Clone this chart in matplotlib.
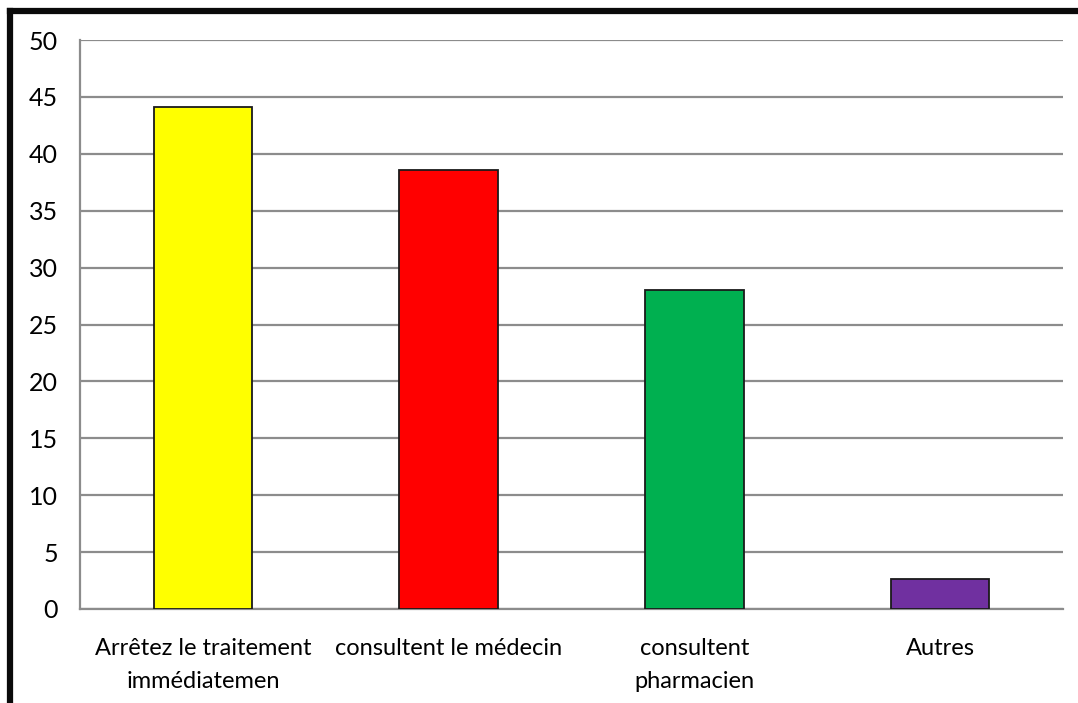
import matplotlib
matplotlib.use("Agg")
import matplotlib.pyplot as plt
from matplotlib.lines import Line2D

categories = ["Arrêtez le traitement\nimmédiatemen", "consultent le médecin",
              "consultent\npharmacien", "Autres"]
values = [44.1, 38.6, 28.0, 2.6]
colors = ["#FFFF00", "#FF0000", "#00B050", "#7030A0"]
yticks = [0, 5, 10, 15, 20, 25, 30, 35, 40, 45, 50]

plt.rcParams['font.family'] = ['Lato', 'DejaVu Sans']

W, H = 1078, 703
fig = plt.figure(figsize=(W / 100, H / 100), dpi=100)
ax = fig.add_axes([80 / W, 1 - 609 / H, (1063 - 80) / W, (609 - 40) / H])

x = list(range(len(categories)))
ax.bar(x, values, width=0.4, color=colors, edgecolor="#1a1a1a", linewidth=1.3, zorder=3)

ax.set_xlim(-0.5, len(categories) - 0.5)
ax.set_ylim(0, 50)
ax.set_yticks(yticks)
ax.set_yticklabels([str(t) for t in yticks], fontsize=18)
ax.set_xticks(x)
ax.set_xticklabels(categories, fontsize=17, linespacing=1.7)
ax.tick_params(axis="y", length=0, pad=16)
ax.tick_params(axis="x", length=0, pad=21)

ax.grid(axis="y", color="#8c8c8c", linewidth=1.6, zorder=0)
for side in ["top", "right"]:
    ax.spines[side].set_visible(False)
ax.spines["left"].set_color("#8c8c8c")
ax.spines["left"].set_linewidth(1.6)
ax.spines["bottom"].set_color("#8c8c8c")
ax.spines["bottom"].set_linewidth(1.6)

# thick black frame along the top and left edges
lw = 4.5
fig.add_artist(Line2D([10 / W, 10 / W], [0, 1 - 11 / H], transform=fig.transFigure,
                      color="#0a0a0a", linewidth=lw, solid_capstyle="projecting"))
fig.add_artist(Line2D([10 / W, 1], [1 - 11 / H, 1 - 11 / H], transform=fig.transFigure,
                      color="#0a0a0a", linewidth=lw, solid_capstyle="projecting"))

fig.savefig("out.png", dpi=100)
